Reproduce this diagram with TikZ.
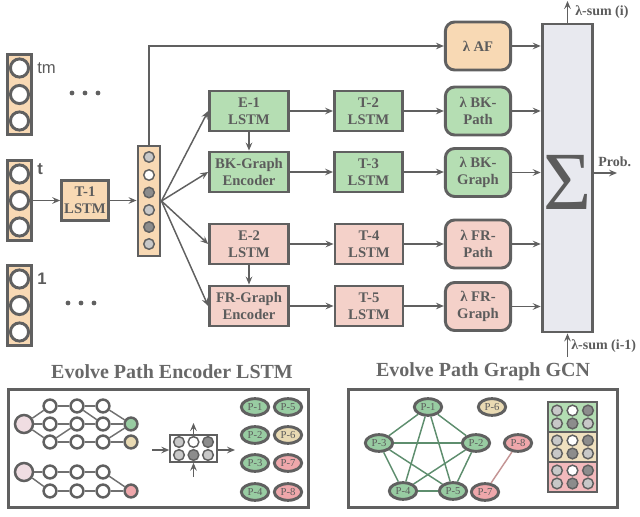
\documentclass[tikz,border=0pt]{standalone}
\usepackage{fontspec}
\setmainfont{Liberation Serif}
\newfontfamily\lsans{Liberation Sans}
\usetikzlibrary{arrows.meta,shapes.geometric}
\definecolor{ln}{HTML}{606060}
\definecolor{tx}{HTML}{5C5C5C}
\definecolor{peach}{HTML}{F8D9B4}
\definecolor{gbox}{HTML}{B5DEB3}
\definecolor{pbox}{HTML}{F4D1C9}
\definecolor{sigf}{HTML}{E8E9EF}
\definecolor{lg}{HTML}{C8C8C8}
\definecolor{dg}{HTML}{8C8C8C}
\definecolor{pgreen}{HTML}{98CCA2}
\definecolor{ptan}{HTML}{E9DAB3}
\definecolor{ppink}{HTML}{EFA7AB}
\definecolor{bigpink}{HTML}{F0DDE2}
\definecolor{egreen}{HTML}{5E8E6E}
\definecolor{epink}{HTML}{C49595}
\definecolor{mgreen}{HTML}{B3DDB3}
\definecolor{mtan}{HTML}{EFE0BF}
\definecolor{mpink}{HTML}{F3B9BC}
\tikzset{
  box/.style={draw=ln, line width=2.2pt, minimum width=59pt, minimum height=30pt, inner sep=0pt,
    align=center, font=\fontsize{11}{13}\selectfont\bfseries, text=tx},
  tbox/.style={box, minimum width=51pt},
  lam/.style={box, rounded corners=7pt, minimum width=49pt, minimum height=36pt},
  arr/.style={-{Stealth[length=6pt,width=5pt,inset=2.2pt]}, line width=1.1pt, draw=ln},
  incol/.style={draw=ln, line width=2.2pt, fill=peach, minimum width=18.5pt, minimum height=60pt, inner sep=0pt},
  inc/.style={circle, draw=ln, line width=2.2pt, fill=white, minimum size=13.6pt, inner sep=0pt},
  vc/.style={circle, draw=ln, line width=1.1pt, minimum size=7.9pt, inner sep=0pt},
  sc/.style={circle, draw=ln, line width=1.9pt, fill=white, minimum size=9.6pt, inner sep=0pt},
  bc/.style={circle, draw=ln, line width=1.9pt, fill=bigpink, minimum size=13.5pt, inner sep=0pt},
  mc/.style={circle, draw=ln, line width=1.1pt, minimum size=8pt, inner sep=0pt},
  ge/.style={draw=ln!90, line width=1.1pt},
  pn/.style={ellipse, draw=ln, line width=2.2pt, minimum width=20.5pt, minimum height=12.5pt, inner sep=0pt,
    font=\fontsize{8}{8}\selectfont, text=tx},
  lbl/.style={font=\fontsize{10.5}{12}\selectfont\bfseries, text=tx, inner sep=0pt},
  ttl/.style={font=\fontsize{15}{17}\selectfont\bfseries, text=ln!95, inner sep=0pt},
  frame/.style={draw=ln, line width=2.3pt},
}
\begin{document}
\begin{tikzpicture}[x=0.75pt,y=-0.75pt]
\useasboundingbox (0,0) rectangle (640,517);

% input columns
\node[incol] (ctm) at (19.5,94.5) {};
\node[inc] (ctma) at (19.5,68) {};
\node[inc] (ctmb) at (19.5,94.5) {};
\node[inc] (ctmc) at (19.5,121) {};
\node[incol] (ct) at (19.5,200.5) {};
\node[inc] (cta) at (19.5,174) {};
\node[inc] (ctb) at (19.5,200.5) {};
\node[inc] (ctc) at (19.5,227) {};
\node[incol] (cone) at (19.5,305.5) {};
\node[inc] (conea) at (19.5,279) {};
\node[inc] (coneb) at (19.5,305.5) {};
\node[inc] (conec) at (19.5,332) {};
\node[anchor=west, inner sep=0pt, text=tx, font=\lsans\fontsize{12.5}{13}\selectfont] (ltm) at (37,68) {tm};
\node[anchor=west, inner sep=0pt, text=tx, font=\lsans\bfseries\fontsize{12.5}{13}\selectfont] (lt) at (37,169) {t};
\node[anchor=west, inner sep=0pt, text=tx, font=\lsans\bfseries\fontsize{12.5}{13}\selectfont] (lone) at (37,279) {1};
\foreach \x in {72,85,98} \fill[ln] (\x,93) circle[radius=1.8pt];
\foreach \x in {68,81,94} \fill[ln] (\x,303) circle[radius=1.8pt];

% T-1 and vector
\node[box, fill=peach, minimum width=35pt, minimum height=30pt] (t1) at (85,200.5) {T-1\\LSTM};
\node[draw=ln, line width=2.2pt, fill=peach, minimum width=16.5pt, minimum height=82.5pt, inner sep=0pt] (vec) at (149,201) {};
\node[vc, fill=lg] (v1) at (149,157) {};
\node[vc, fill=white] (v2) at (149,175) {};
\node[vc, fill=dg] (v3) at (149,192.5) {};
\node[vc, fill=lg] (v4) at (149,210) {};
\node[vc, fill=dg] (v5) at (149,227) {};
\node[vc, fill=lg] (v6) at (149,244) {};
\draw[arr] (ct.east |- t1) -- (t1.west);
\draw[arr] (t1.east) -- (vec.west |- t1);

% middle boxes
\node[box, fill=gbox] (e1) at (249,111) {E-1\\LSTM};
\node[box, fill=gbox] (bk) at (249,172) {BK-Graph\\Encoder};
\node[box, fill=pbox] (e2) at (249,244) {E-2\\LSTM};
\node[box, fill=pbox] (fr) at (249,306) {FR-Graph\\Encoder};
\node[tbox, fill=gbox] (t2) at (368.5,111) {T-2\\LSTM};
\node[tbox, fill=gbox] (t3) at (368.5,172) {T-3\\LSTM};
\node[tbox, fill=pbox] (t4) at (369,244) {T-4\\LSTM};
\node[tbox, fill=pbox] (t5) at (369,306) {T-5\\LSTM};
\node[lam, fill=peach] (af) at (478,46) {λ AF};
\node[lam, fill=gbox] (lbp) at (478,111) {λ BK-\\Path};
\node[lam, fill=gbox] (lbg) at (478,172.5) {λ BK-\\Graph};
\node[lam, fill=pbox] (lfp) at (478,244) {λ FR-\\Path};
\node[lam, fill=pbox] (lfg) at (478,306.5) {λ FR-\\Graph};

\draw[arr] (vec.east) -- (e1.west);
\draw[arr] (vec.east) -- (bk.west);
\draw[arr] (vec.east) -- (e2.west);
\draw[arr] (vec.east) -- (fr.west);
\draw[arr] (vec.north) |- (af.west);
\draw[arr] (e1.south) -- (bk.north);
\draw[arr] (e2.south) -- (fr.north);
\draw[arr] (e1) -- (t2);
\draw[arr] (bk) -- (t3);
\draw[arr] (e2.east) -- (t4.west |- e2.east);
\draw[arr] (fr.east) -- (t5.west |- fr.east);
\draw[arr] (t2) -- (lbp);
\draw[arr] (t3.east) -- (lbg.west |- t3.east);
\draw[arr] (t4) -- (lfp);
\draw[arr] (t5.east) -- (lfg.west |- t5.east);

% sigma
\node[draw=ln, line width=2.2pt, fill=sigf, minimum width=38pt, minimum height=231pt, inner sep=0pt] (sig) at (567.5,178) {};
\node[inner sep=0pt, text=tx, font=\fontsize{62}{66}\selectfont] (sigsym) at (568,182) {Σ};
\foreach \n in {af,lbp,lbg,lfp,lfg} \draw[arr] (\n.east) -- (\n.east -| sig.west);
\coordinate (topend) at (567.5,1);
\coordinate (botstart) at (567.5,357);
\coordinate (probend) at (617,173);
\draw[arr] (sig.north) -- (topend);
\draw[arr] (botstart) -- (sig.south);
\draw[arr] (sig.east |- probend) -- (probend);
\node[lbl, anchor=west] (lsi) at (575,12) {λ-sum (i)};
\node[lbl, anchor=west] (lsi1) at (571,346) {λ-sum (i-1)};
\node[lbl, anchor=west] (lprob) at (598,162) {Prob.};

% bottom left panel
\node[ttl] (tl) at (172,372) {Evolve Path Encoder LSTM};
\draw[frame] (8.5,389.5) rectangle (308.5,507.5);
\node[bc] (bigA) at (24,424) {};
\foreach \r/\y in {a/406,b/424,c/442}{
  \node[sc] (n\r1) at (50,\y) {};
  \node[sc] (n\r2) at (77,\y) {};
  \node[sc] (n\r3) at (103,\y) {};
}
\node[sc, fill=pgreen] (gd) at (131,424) {};
\node[sc, fill=ptan] (td) at (131,442) {};
\draw[ge] (bigA) -- (na1);
\draw[ge] (bigA) -- (nb1);
\draw[ge] (bigA) -- (nc1);
\draw[ge] (na1) -- (na2); \draw[ge] (na2) -- (na3); \draw[ge] (na3) -- (gd);
\draw[ge] (na2) -- (nb3);
\draw[ge] (nb1) -- (nb2); \draw[ge] (nb2) -- (nb3); \draw[ge] (nb3) -- (gd);
\draw[ge] (nc1) -- (nb2);
\draw[ge] (nc1) -- (nc2); \draw[ge] (nc2) -- (nc3); \draw[ge] (nc3) -- (td);
\draw[ge] (nc3) -- (gd);
\node[bc] (bigB) at (24,472) {};
\node[sc] (nd1) at (50,472) {};
\node[sc] (nd2) at (77,472) {};
\node[sc] (nd3) at (103,472) {};
\node[sc] (ne1) at (50,491) {};
\node[sc] (ne2) at (77,491) {};
\node[sc] (ne3) at (103,491) {};
\node[sc, fill=ppink] (pd) at (131,491) {};
\draw[ge] (bigB) -- (nd1); \draw[ge] (nd1) -- (nd2); \draw[ge] (nd2) -- (nd3); \draw[ge] (nd3) -- (pd);
\draw[ge] (bigB) -- (ne1); \draw[ge] (ne1) -- (ne2); \draw[ge] (ne2) -- (ne3); \draw[ge] (ne3) -- (pd);

\node[draw=ln, line width=1.1pt, fill=white, minimum width=35.3pt, minimum height=20.3pt, inner sep=0pt] (mat) at (193.5,448.5) {};
\node[mc, fill=lg] (m11) at (179,442) {};
\node[mc, fill=white] (m12) at (193.5,442) {};
\node[mc, fill=dg] (m13) at (208,442) {};
\node[mc, fill=lg] (m21) at (179,455) {};
\node[mc, fill=dg] (m22) at (193.5,455) {};
\node[mc, fill=lg] (m23) at (208,455) {};
\coordinate (min) at (152,450);
\coordinate (mout) at (235,450);
\coordinate (mup) at (193.5,423);
\coordinate (mlow) at (193.5,477);
\draw[arr] (min) -- (mat.west |- min);
\draw[arr] (mat.east |- mout) -- (mout);
\draw[arr] (mat.north) -- (mup);
\draw[arr] (mlow) -- (mat.south);

\node[pn, fill=pgreen] (q1) at (255,407) {P-1};
\node[pn, fill=pgreen] (q2) at (255,435) {P-2};
\node[pn, fill=pgreen] (q3) at (255,463) {P-3};
\node[pn, fill=pgreen] (q4) at (255,492) {P-4};
\node[pn, fill=pgreen] (q5) at (288,407) {P-5};
\node[pn, fill=ptan] (q6) at (288,435) {P-6};
\node[pn, fill=ppink] (q7) at (288,463) {P-7};
\node[pn, fill=ppink] (q8) at (288,492) {P-8};

% bottom right panel
\node[ttl] (tr) at (483,372) {Evolve Path Graph GCN};
\draw[frame] (348.5,389.5) rectangle (617.5,507.5);
\node[pn, fill=pgreen] (g1) at (428,407) {P-1};
\node[pn, fill=pgreen] (g2) at (476,443) {P-2};
\node[pn, fill=pgreen] (g3) at (379,443) {P-3};
\node[pn, fill=pgreen] (g4) at (403,491) {P-4};
\node[pn, fill=pgreen] (g5) at (453,491) {P-5};
\node[pn, fill=ptan] (g6) at (492,407) {P-6};
\node[pn, fill=ppink] (g7) at (485,492) {P-7};
\node[pn, fill=ppink] (g8) at (518,443) {P-8};
\foreach \a/\b in {g1/g2,g1/g3,g1/g4,g1/g5,g2/g3,g2/g4,g2/g5,g3/g4,g3/g5,g4/g5}
  \draw[draw=egreen, line width=1.1pt] (\a) -- (\b);
\draw[draw=epink, line width=1.1pt] (g7) -- (g8);

\node[draw=ln, line width=1.3pt, fill=mgreen, minimum width=36.5pt, minimum height=22pt, inner sep=0pt] (sg) at (572.5,417) {};
\node[draw=ln, line width=1.3pt, fill=mtan, minimum width=36.5pt, minimum height=22pt, inner sep=0pt] (st) at (572.5,447) {};
\node[draw=ln, line width=1.3pt, fill=mpink, minimum width=36.5pt, minimum height=22pt, inner sep=0pt] (sp) at (572.5,477) {};
\foreach \s/\cy in {g/417,t/447,p/477}{
  \node[mc, fill=lg] (r\s11) at (557,\cy-6.5) {};
  \node[mc, fill=white] (r\s12) at (572.5,\cy-6.5) {};
  \node[mc, fill=dg] (r\s13) at (588,\cy-6.5) {};
  \node[mc, fill=lg] (r\s21) at (557,\cy+6.5) {};
  \node[mc, fill=dg] (r\s22) at (572.5,\cy+6.5) {};
  \node[mc, fill=lg] (r\s23) at (588,\cy+6.5) {};
}
\end{tikzpicture}
\end{document}
